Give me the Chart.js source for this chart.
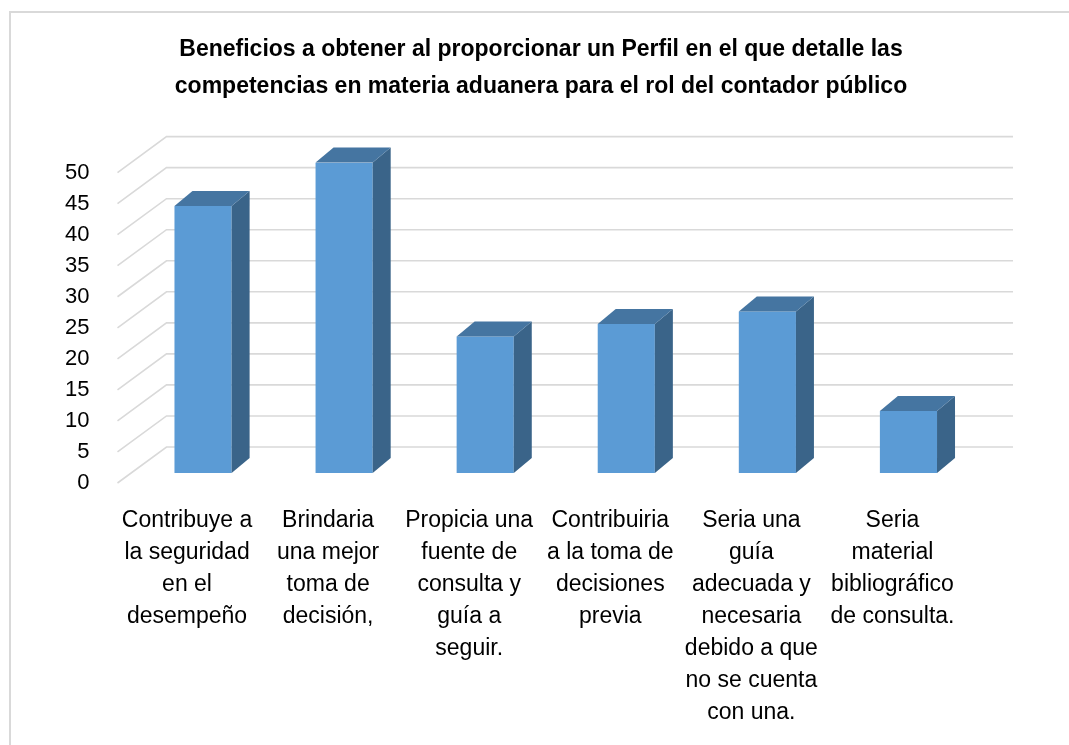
<!DOCTYPE html>
<html>
<head>
<meta charset="utf-8">
<script src="https://cdn.jsdelivr.net/npm/chart.js@4.4.1/dist/chart.umd.min.js"></script>
<style>
  html, body { margin: 0; padding: 0; background: #fff; }
  canvas { display: block; }
</style>
</head>
<body>
<canvas id="benefitChart" width="1069" height="745"></canvas>
<script>
// data
const titleLines = [
    'Beneficios a obtener al proporcionar un Perfil en el que detalle las',
    'competencias en materia aduanera para el rol del contador público'
];
const categories = [
    ['Contribuye a', 'la seguridad', 'en el', 'desempeño'],
    ['Brindaria', 'una mejor', 'toma de', 'decisión,'],
    ['Propicia una', 'fuente de', 'consulta y', 'guía a', 'seguir.'],
    ['Contribuiria', 'a la toma de', 'decisiones', 'previa'],
    ['Seria una', 'guía', 'adecuada y', 'necesaria', 'debido a que', 'no se cuenta', 'con una.'],
    ['Seria', 'material', 'bibliográfico', 'de consulta.']
];
const values = [43, 50, 22, 24, 26, 10];
const yMin = 0;
const yMax = 50;
const yStep = 5;

const FONT = '"Liberation Sans", Arial, sans-serif';
const GRID = '#d9d9d9';

// fake 3d offsets (px)
const barDepth = { dx: 18, dy: -15 };
const wallBack = { dx: 34, dy: -26 };
const wallFront = { dx: -15, dy: 10 };

const frameBorder = {
    id: 'frameBorder',
    beforeDraw(chart) {
        const c = chart.ctx;
        c.save();
        c.strokeStyle = GRID;
        c.lineWidth = 2;
        c.strokeRect(10, 12, chart.width + 20, chart.height + 20);
        c.restore();
    }
};

const walls = {
    id: 'walls',
    beforeDatasetsDraw(chart) {
        const c = chart.ctx;
        const y = chart.scales.y;
        const area = chart.chartArea;
        c.save();
        c.strokeStyle = GRID;
        c.lineWidth = 1.6;
        y.ticks.forEach(t => {
            const py = y.getPixelForValue(t.value);
            c.beginPath();
            c.moveTo(area.left + wallFront.dx, py + wallFront.dy);
            c.lineTo(area.left + wallBack.dx, py + wallBack.dy);
            c.lineTo(area.right + wallBack.dx, py + wallBack.dy);
            c.stroke();
        });
        c.restore();
    }
};

const bars3d = {
    id: 'bars3d',
    afterDatasetsDraw(chart) {
        const c = chart.ctx;
        const meta = chart.getDatasetMeta(0);
        c.save();
        meta.data.forEach(bar => {
            const p = bar.getProps(['x', 'y', 'base', 'width'], true);
            const l = p.x - p.width / 2;
            const r = p.x + p.width / 2;
            // side
            c.fillStyle = '#3a6489';
            c.beginPath();
            c.moveTo(r, p.y);
            c.lineTo(r + barDepth.dx, p.y + barDepth.dy);
            c.lineTo(r + barDepth.dx, p.base + barDepth.dy);
            c.lineTo(r, p.base);
            c.closePath();
            c.fill();
            // top
            c.fillStyle = '#4575a1';
            c.beginPath();
            c.moveTo(l, p.y);
            c.lineTo(l + barDepth.dx, p.y + barDepth.dy);
            c.lineTo(r + barDepth.dx, p.y + barDepth.dy);
            c.lineTo(r, p.y);
            c.closePath();
            c.fill();
        });
        c.restore();
    }
};

const ctx = document.getElementById('benefitChart').getContext('2d');
const benefitChart = new Chart(ctx, {
    type: 'bar',
    data: {
        labels: categories,
        datasets: [{
            data: values,
            backgroundColor: '#5b9bd5',
            borderWidth: 0,
            barPercentage: 0.405,
            categoryPercentage: 1
        }]
    },
    plugins: [frameBorder, walls, bars3d],
    options: {
        responsive: false,
        animation: false,
        events: [],
        layout: { padding: { left: 13, right: 0, top: 0, bottom: 0 } },
        plugins: {
            legend: { display: false },
            tooltip: { enabled: false },
            title: {
                display: true,
                text: titleLines,
                color: '#000',
                font: { family: FONT, size: 23, weight: 'bold', lineHeight: 1.6 },
                padding: { top: 31, bottom: 58 }
            }
        },
        scales: {
            x: {
                grid: { display: false },
                border: { display: false },
                afterFit: s => { s.height = 272; },
                ticks: {
                    autoSkip: false,
                    maxRotation: 0,
                    minRotation: 0,
                    padding: 24,
                    labelOffset: -16,
                    color: '#000',
                    font: { family: FONT, size: 23, lineHeight: 1.39 }
                }
            },
            y: {
                min: yMin,
                max: yMax,
                grid: { display: false },
                border: { display: false },
                afterFit: s => { s.width = 119.5; },
                ticks: {
                    stepSize: yStep,
                    padding: 35,
                    labelOffset: 10,
                    color: '#000',
                    font: { family: FONT, size: 22 }
                }
            },
            y2: {
                position: 'right',
                display: true,
                grid: { display: false },
                border: { display: false },
                ticks: { display: false },
                afterFit: s => { s.width = 90; }
            }
        }
    }
});
</script>
</body>
</html>
